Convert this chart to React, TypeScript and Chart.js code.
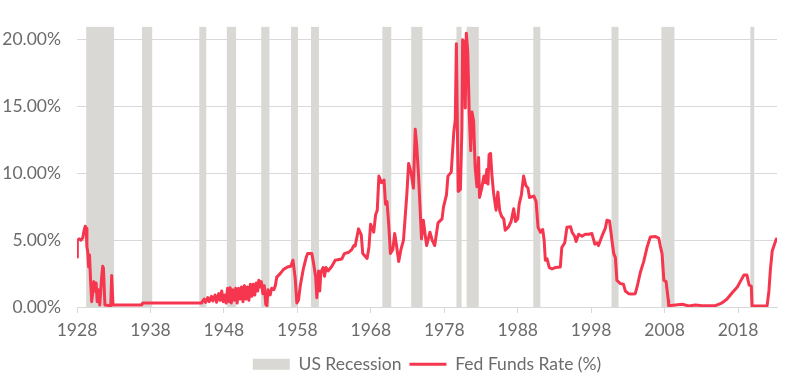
import React, { useEffect, useRef } from "react";
import { Chart, registerables } from "chart.js";

Chart.register(...registerables);

// ---- data ----
const xTickYears = [1928, 1938, 1948, 1958, 1968, 1978, 1988, 1998, 2008, 2018];
const yTickValues = [0, 5, 10, 15, 20];
const xMin = 1928;
const xMax = 2023.3;
const yMax = 21;

const recessionStart = [1929.24, 1936.84, 1944.65, 1948.4, 1953.08, 1957.14, 1959.86, 1969.57, 1973.5, 1979.66, 1981.05, 1990.12, 2000.77, 2007.56, 2019.67];
const recessionEnd = [1933.05, 1938.24, 1945.6, 1949.66, 1954.2, 1958.09, 1960.94, 1970.78, 1975.03, 1980.36, 1982.7, 1991.08, 2001.72, 2009.34, 2020.24];

const rateYears = [
  1928.0, 1928.05, 1928.3, 1928.55, 1928.8, 1928.95, 1929.12, 1929.25, 1929.35, 1929.45, 1929.58, 1929.7, 1929.85,
  1930.0, 1930.15, 1930.3, 1930.45, 1930.6, 1930.75, 1930.9, 1931.1, 1931.35, 1931.5, 1931.6, 1931.8, 1932.6, 1932.72,
  1932.9, 1936.8, 1936.95, 1944.9,
  1945.0, 1945.3, 1945.5, 1945.8, 1946.0, 1946.3, 1946.5, 1946.8, 1947.0, 1947.3, 1947.5, 1947.7, 1947.9, 1948.1,
  1948.3, 1948.5, 1948.7, 1948.85, 1949.0, 1949.2, 1949.4, 1949.6, 1949.8, 1950.0, 1950.2, 1950.4, 1950.6, 1950.8,
  1951.0, 1951.2, 1951.4, 1951.6, 1951.8, 1952.0, 1952.2, 1952.4, 1952.6, 1952.75, 1952.95, 1953.1, 1953.3, 1953.5,
  1953.7, 1953.85, 1954.0, 1954.3, 1954.5, 1954.8, 1955.0, 1955.2, 1955.66, 1956.1, 1956.65, 1957.1, 1957.4, 1957.7,
  1957.93, 1958.15, 1958.4, 1958.83, 1959.2, 1959.4, 1959.97, 1960.2, 1960.5, 1960.65, 1960.9, 1961.05, 1961.2,
  1961.5, 1961.7, 1961.9, 1962.2, 1962.7, 1963.15, 1964.06, 1964.4, 1965.0, 1965.4, 1965.7, 1965.87,
  1966.33, 1966.7, 1966.9, 1967.5, 1967.75, 1967.97, 1968.4, 1968.65, 1968.88, 1969.1, 1969.45, 1969.8, 1970.0,
  1970.2, 1970.45, 1970.67, 1971.0, 1971.25, 1971.5, 1971.8, 1972.1, 1972.45, 1972.7, 1972.9, 1973.15, 1973.5,
  1973.8, 1974.05, 1974.25, 1974.5, 1974.7, 1974.9, 1975.15, 1975.4, 1975.6, 1976.05, 1976.35, 1976.7, 1977.15,
  1977.7, 1977.9, 1978.3, 1978.5, 1978.95, 1979.3, 1979.5, 1979.65, 1979.9,
  1980.2, 1980.4, 1980.5, 1980.77, 1980.86, 1981.0, 1981.2, 1981.4, 1981.6, 1981.77, 1982.0, 1982.2, 1982.45,
  1982.67, 1982.8, 1983.1, 1983.4, 1983.6, 1983.8, 1983.95, 1984.1, 1984.3, 1984.5, 1984.7, 1985.05, 1985.3,
  1985.55, 1985.8, 1986.1, 1986.3, 1986.75, 1987.1, 1987.45, 1987.7, 1988.0, 1988.2, 1988.5, 1988.8, 1989.1,
  1989.4, 1989.6, 1990.2, 1990.5, 1990.77, 1991.1, 1991.4, 1991.6, 1991.76, 1992.0, 1992.3, 1992.67, 1993.1,
  1993.8, 1994.0, 1994.4, 1994.7, 1995.2, 1995.4, 1995.75, 1995.95, 1996.3, 1996.75, 1997.2, 1997.65, 1998.1,
  1998.5, 1998.8, 1999.0, 1999.5, 1999.93, 2000.15, 2000.5, 2000.85, 2001.07, 2001.3, 2001.5, 2001.97, 2002.4,
  2002.65, 2003.1, 2003.55, 2004.0, 2004.25, 2004.7, 2005.15, 2005.6, 2006.06, 2006.75, 2007.2, 2007.4, 2007.65,
  2007.9, 2008.2, 2008.5, 2008.55, 2009.5, 2010.4, 2011.3, 2012.2, 2013.1, 2014.9, 2015.6, 2016.05, 2016.5,
  2017.2, 2017.9, 2018.3, 2018.8, 2019.2, 2019.5, 2019.8, 2019.9, 2021.95, 2022.2, 2022.4, 2022.65, 2022.9, 2023.2,
];
const rateValues = [
  3.75, 5.0, 5.1, 5.0, 5.2, 5.7, 6.05, 5.9, 4.5, 4.2, 3.0, 3.9, 2.0,
  0.4, 1.1, 1.9, 1.2, 1.8, 0.4, 1.3, 0.15, 2.2, 3.05, 2.9, 0.15, 0.1, 2.35,
  0.15, 0.15, 0.3, 0.3,
  0.35, 0.6, 0.35, 0.7, 0.4, 0.8, 0.45, 0.9, 0.35, 1.0, 0.5, 1.2, 0.4, 0.9,
  0.3, 1.4, 0.4, 1.45, 0.3, 1.3, 0.5, 1.4, 0.3, 1.4, 0.6, 1.5, 0.4, 1.6,
  0.6, 1.5, 0.5, 1.7, 0.8, 1.7, 0.9, 1.8, 1.2, 2.0, 1.5, 1.9, 1.0, 1.6,
  0.2, 0.1, 1.3, 0.9, 1.4, 1.3, 1.6, 2.24, 2.5, 2.8, 3.0, 3.05, 3.5, 2.2,
  0.3, 0.5, 1.6, 2.9, 3.7, 4.0, 4.0, 3.3, 2.2, 0.7, 2.7, 1.2, 2.6,
  2.95, 2.3, 2.95, 2.7, 3.05, 3.5, 3.6, 4.0, 4.1, 4.3, 4.6, 4.57,
  5.85, 5.4, 4.0, 3.64, 4.5, 6.2, 5.6, 6.9, 7.25, 9.8, 9.3, 9.5, 7.7,
  7.9, 6.1, 4.0, 4.3, 5.5, 4.6, 3.4, 4.3, 5.0, 6.9, 8.4, 10.75, 10.0,
  8.9, 13.3, 12.1, 9.8, 7.5, 5.1, 6.5, 5.4, 4.6, 5.6, 5.0, 4.6, 6.3,
  6.6, 7.5, 8.4, 9.8, 10.1, 13.1, 14.0, 19.7, 8.65,
  8.8, 13.3, 20.0, 19.8, 14.9, 20.5, 19.1, 14.5, 11.7, 14.6, 13.9, 10.5, 9.0,
  11.2, 8.2, 8.9, 9.8, 9.3, 10.3, 9.2, 11.4, 11.5, 9.8, 8.6, 7.25, 8.6,
  7.2, 6.8, 6.6, 5.75, 6.0, 6.4, 7.35, 6.4, 6.6, 7.7, 8.4, 9.8, 9.1,
  8.9, 8.2, 8.3, 7.9, 5.96, 5.6, 5.8, 5.0, 3.5, 3.6, 2.95, 2.85, 2.95,
  3.0, 4.45, 4.8, 5.97, 6.0, 5.6, 5.3, 4.9, 5.45, 5.3, 5.45, 5.45, 5.5,
  4.7, 4.8, 4.6, 5.35, 5.9, 6.5, 6.45, 4.9, 4.0, 3.7, 2.0, 1.75, 1.7,
  1.2, 1.0, 0.98, 1.0, 1.5, 2.6, 3.4, 4.45, 5.25, 5.27, 5.15, 4.6, 4.0,
  2.0, 1.9, 0.5, 0.1, 0.15, 0.2, 0.08, 0.15, 0.1, 0.1, 0.25, 0.4, 0.6,
  1.07, 1.5, 1.9, 2.4, 2.4, 1.65, 1.55, 0.07, 0.08, 1.2, 2.8, 4.2, 4.6, 5.08,
];

const seriesLabels = ["US Recession", "Fed Funds Rate (%)"];

const recessionColor = "#d9d8d4";
const lineColor = "#f5364e";
const gridColor = "#d9d9d9";
const textColor = "#6b6b6b";
const fontFamily = "Lato, 'Noto Sans', sans-serif";
const fontSize = 17.5;

// centre the legend over the plot area instead of the whole canvas
const legendOverPlot = {
  id: "legendOverPlot",
  afterLayout(chart: any) {
    if (chart.legend && chart.chartArea) {
      chart.legend.left = chart.chartArea.left;
      chart.legend.right = chart.chartArea.right;
    }
  },
};

export default function App() {
  const canvasRef = useRef<HTMLCanvasElement | null>(null);

  useEffect(() => {
    const canvas = canvasRef.current;
    if (!canvas) return;

    const recessionPoints: { x: number; y: number }[] = [];
    recessionStart.forEach((s, i) => {
      const e = recessionEnd[i];
      recessionPoints.push({ x: s, y: 0 }, { x: s, y: yMax }, { x: e, y: yMax }, { x: e, y: 0 });
    });
    const ratePoints = rateYears.map((x, i) => ({ x, y: rateValues[i] }));

    const legendPadding = 8;
    const legendHeight = fontSize + legendPadding + 10;

    const chart = new Chart(canvas, {
      type: "line",
      plugins: [legendOverPlot],
      data: {
        datasets: [
          {
            label: seriesLabels[0],
            data: recessionPoints,
            fill: "origin",
            backgroundColor: recessionColor,
            borderColor: "rgba(0,0,0,0)",
            borderWidth: 0,
            pointRadius: 0,
            tension: 0,
            order: 2,
          },
          {
            label: seriesLabels[1],
            data: ratePoints,
            fill: false,
            borderColor: lineColor,
            borderWidth: 3,
            borderJoinStyle: "round",
            borderCapStyle: "round",
            pointRadius: 0,
            tension: 0,
            order: 1,
          },
        ],
      },
      options: {
        animation: false,
        responsive: false,
        devicePixelRatio: 1,
        layout: { padding: { top: 7, right: 14, left: 0, bottom: 0 } },
        plugins: {
          tooltip: { enabled: false },
          legend: {
            position: "bottom",
            labels: {
              usePointStyle: true,
              pointStyleWidth: 37,
              boxHeight: 11,
              padding: legendPadding,
              color: textColor,
              font: { family: fontFamily, size: fontSize },
              generateLabels: (c: any) => [
                {
                  text: c.data.datasets[0].label,
                  fillStyle: recessionColor,
                  strokeStyle: recessionColor,
                  lineWidth: 0,
                  pointStyle: "rect",
                  datasetIndex: 0,
                  hidden: false,
                  fontColor: textColor,
                },
                {
                  text: c.data.datasets[1].label,
                  fillStyle: lineColor,
                  strokeStyle: lineColor,
                  lineWidth: 3,
                  pointStyle: "line",
                  datasetIndex: 1,
                  hidden: false,
                  fontColor: textColor,
                },
              ],
            },
          },
        },
        scales: {
          x: {
            type: "linear",
            min: xMin,
            max: xMax,
            afterBuildTicks: (scale: any) => {
              scale.ticks = xTickYears.map((v) => ({ value: v }));
            },
            afterFit: (scale: any) => {
              scale.height = 76 - legendHeight;
            },
            grid: {
              display: true,
              drawOnChartArea: false,
              drawTicks: true,
              tickLength: 6,
              color: gridColor,
            },
            border: { display: true, color: gridColor },
            ticks: {
              autoSkip: false,
              maxRotation: 0,
              padding: 7,
              color: textColor,
              font: { family: fontFamily, size: fontSize },
              callback: (v: any) => String(v),
            },
          },
          y: {
            type: "linear",
            min: 0,
            max: yMax,
            afterBuildTicks: (scale: any) => {
              scale.ticks = yTickValues.map((v) => ({ value: v }));
            },
            afterFit: (scale: any) => {
              scale.width = 77;
            },
            grid: { color: gridColor, drawTicks: false },
            border: { display: false },
            ticks: {
              padding: 16,
              color: textColor,
              font: { family: fontFamily, size: fontSize },
              callback: (v: any) => Number(v).toFixed(2) + "%",
            },
          },
        },
      },
    });

    return () => chart.destroy();
  }, []);

  return (
    <canvas
      ref={canvasRef}
      width={791}
      height={383}
      style={{ position: "absolute", left: 0, top: 0, width: 791, height: 383 }}
    />
  );
}
